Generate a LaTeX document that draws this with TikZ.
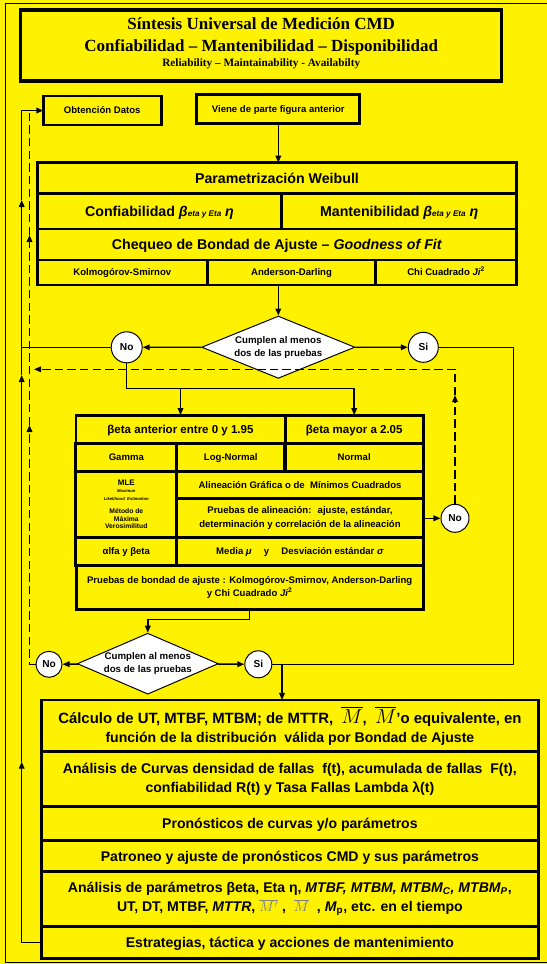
\documentclass[tikz,border=0pt]{standalone}
\usepackage{fontspec}
\setmainfont{Liberation Sans}
\newfontfamily\serifcmd{Liberation Serif}
\usetikzlibrary{shapes.geometric,arrows.meta,positioning}
\newcommand{\pxu}{0.25mm}

\begin{document}
\begin{tikzpicture}[x=\pxu,y=-\pxu,>={Triangle[length=5pt,width=4pt]},
   caja/.style={draw,line width=2.1pt,fill=yellow,inner sep=0pt,outer sep=0pt,align=center},
   celda/.style 2 args={minimum width=#1*\pxu,minimum height=#2*\pxu},
   grande/.style={font=\fontsize{10.1}{12}\selectfont\bfseries,text height=7.2pt,text depth=0pt},
   mediana/.style={font=\fontsize{10}{12.5}\selectfont\bfseries,text height=7.1pt,text depth=0pt},
   medianas/.style={font=\fontsize{10}{13.5}\selectfont\bfseries},
   chica/.style={font=\fontsize{6.8}{10}\selectfont\bfseries,text height=4.9pt,text depth=0pt},
   chicas/.style={font=\fontsize{6.8}{10}\selectfont\bfseries},
   titulo/.style={font=\serifcmd\fontsize{12.1}{14}\selectfont\bfseries},
   opcion/.style={circle,draw,line width=0.7pt,fill=white,inner sep=0pt,minimum size=#1*\pxu,font=\fontsize{7.2}{8}\selectfont\bfseries},
   decision/.style={diamond,draw,line width=0.7pt,fill=white,inner sep=0pt,aspect=2.3,align=center,font=\fontsize{6.9}{9}\selectfont\bfseries},
   linea/.style={line width=1pt},
   retorno/.style={line width=1pt,dash pattern=on 6pt off 3pt}]
   \useasboundingbox (0,0) rectangle (547,964);
   \fill[yellow] (0,0) rectangle (547,964);
   \draw[line width=0.7pt] (5,3.5) rectangle (560,962);

   \node[caja,line width=2.4pt,celda={481}{71}] (marco) at (261.2,45.5) {};
   \node[titulo] (titulo1) at (261.2,23.3) {Síntesis Universal de Medición CMD};
   \node[titulo] (titulo2) at (261.2,47.7) {Confiabilidad – Mantenibilidad – Disponibilidad};
   \node[font=\serifcmd\fontsize{8}{9}\selectfont\bfseries] (titulo3) at (261.2,64.3) {Reliability – Maintainability - Availabilty};

   \node[caja,chica,celda={117.7}{29}] (obt) at (102.2,110.5) {Obtención Datos};
   \node[caja,chica,celda={163.3}{29}] (viene) at (278.3,108.8) {Viene de parte figura anterior};

   \node[caja,grande,celda={479.4}{31.3}] (weib) at (277,178.3) {Parametrización Weibull};
   \node[caja,grande,celda={244.4}{35}] (conf) at (159.5,211.5) {Confiabilidad \textit{β{\fontsize{5.8}{7}\selectfont eta y Eta} η}};
   \node[caja,grande,celda={235}{35}] (mant) at (399.2,211.5) {Mantenibilidad \textit{β{\fontsize{5.8}{7}\selectfont eta y Eta} η}};
   \node[caja,grande,celda={479.4}{31}] (cheq) at (277,244.5) {Chequeo de Bondad de Ajuste – \textit{Goodness of Fit}};
   \node[caja,chica,celda={170}{25}] (ks) at (122.3,272.5) {Kolmogórov-Smirnov};
   \node[caja,chica,celda={168.4}{25}] (ad) at (291.5,272.5) {Anderson-Darling};
   \node[caja,chica,celda={141}{25}] (chi) at (446.2,272.5) {Chi Cuadrado \textit{Ji}\textsuperscript{2}};

   \node[decision,celda={153.3}{62.3}] (cumple1) at (278.3,347.2) {Cumplen al menos\\dos de las pruebas};
   \node[opcion=31] (no1) at (126.7,347.3) {No};
   \node[opcion=30] (si1) at (423.3,347.3) {Si};

   \node[caja,font=\fontsize{8.2}{10}\selectfont\bfseries,text height=5.9pt,text depth=0pt,celda={209}{28.3}] (beta1) at (180.5,429.2) {βeta anterior entre 0 y 1.95};
   \node[caja,font=\fontsize{8.2}{10}\selectfont\bfseries,text height=5.9pt,text depth=0pt,celda={138.3}{28.3}] (beta2) at (354.2,429.2) {βeta mayor a 2.05};
   \node[caja,chica,celda={100.7}{27.7}] (gamma) at (126.3,457.2) {Gamma};
   \node[caja,chica,celda={108.3}{27.7}] (lognormal) at (230.8,457.2) {Log-Normal};
   \node[caja,chica,celda={138.3}{27.7}] (normal) at (354.2,457.2) {Normal};
   \node[caja,font=\fontsize{4.8}{5.4}\selectfont\bfseries,celda={100.7}{66.3}] (mle) at (126.3,504.2)
      {\fontsize{5.7}{6}\selectfont MLE\\ \fontsize{3}{3.4}\selectfont\itshape Maximun\\
       \fontsize{3}{3.4}\selectfont\itshape Likelihood\ \ Estimation\\[4pt] Método de\\ Máxima\\ Verosimilitud};
   \node[caja,chica,celda={246.6}{27.3}] (alin) at (300,484.7) {Alineación Gráfica o de \ Mínimos Cuadrados};
   \node[caja,chicas,celda={246.6}{39}] (prual) at (300,517.8) {Pruebas de alineación: \ ajuste, estándar,\\determinación y correlación de la alineación};
   \node[caja,chica,celda={100.7}{28.4}] (alfa) at (126.3,551.5) {αlfa y βeta};
   \node[caja,chica,celda={246.6}{28.4}] (media) at (300,551.5) {Media \textit{μ} \quad y \quad Desviación estándar \textit{σ}};
   \node[caja,font=\fontsize{6.8}{9.6}\selectfont\bfseries,celda={347.3}{43.6}] (bondad) at (249.7,587.5)
      {Pruebas de bondad de ajuste : Kolmogórov-Smirnov, Anderson-Darling\\y Chi Cuadrado \textit{Ji}\textsuperscript{2}};
   \node[opcion=28] (no2) at (455,518.3) {No};

   \node[decision,celda={141}{61}] (cumple2) at (147.8,663.7) {Cumplen al menos\\dos de las pruebas};
   \node[opcion=26] (no3) at (49,664.3) {No};
   \node[opcion=27] (si2) at (258.3,664.3) {Si};

   \node[caja,medianas,celda={496.3}{51.7}] (calc) at (289.9,725.85)
      {\fontsize{10.6}{13.5}\selectfont Cálculo de UT, MTBF, MTBM; de MTTR, \ {\fontsize{14}{14}\selectfont$\overline{M}$}, \ {\fontsize{14}{14}\selectfont$\overline{M}$}'o equivalente, en\\función de la distribución \ válida por Bondad de Ajuste};
   \node[caja,medianas,celda={496.3}{55}] (curvas) at (289.9,779.2)
      {Análisis de Curvas densidad de fallas \ f(t), acumulada de fallas \ F(t),\\confiabilidad R(t) y Tasa Fallas Lambda λ(t)};
   \node[caja,mediana,celda={496.3}{34}] (prono) at (289.9,823.7) {Pronósticos de curvas y/o parámetros};
   \node[caja,mediana,celda={496.3}{31}] (patron) at (289.9,856.2) {Patroneo y ajuste de pronósticos CMD y sus parámetros};
   \node[caja,medianas,celda={496.3}{55}] (anapar) at (289.9,899.2)
      {Análisis de parámetros βeta, Eta η, \textit{MTBF, MTBM, MTBM\textsubscript{C}, MTBM\textsubscript{P}},\\UT, DT, MTBF, \textit{MTTR}, {\color{gray}$\overline{M'}$} , \ {\color{gray}$\overline{M}$} \ , \textit{M}\textsubscript{p}, etc. en el tiempo};
   \node[caja,mediana,celda={496.3}{31.6}] (estra) at (289.9,942.5) {Estrategias, táctica y acciones de mantenimiento};

   \coordinate (f1) at (21.7,761.7);
   \coordinate (f2) at (21.7,375);
   \coordinate (f3) at (21.7,200);
   \coordinate (g1) at (29.5,425);
   \coordinate (g2) at (29.5,235);
   \coordinate (h1) at (455,395);
   \coordinate (h2) at (34,369.3);
   \coordinate (der) at (513.3,0);
   \coordinate (bajada) at (282,0);
   \coordinate (ramal) at (0,388.3);
   \coordinate (baja) at (0,619.3);

   \draw[->,linea] (viene.south) -- (viene.south |- weib.north);
   \draw[->,linea] (cumple1.north |- ad.south) -- (cumple1.north);
   \path[->,linea]
   (cumple1) edge (no1)
             edge (si1)
   (cumple2) edge (no3)
             edge (si2);
   \draw[->,linea] (no1.south) |- (beta2.north |- ramal) -- (beta2.north);
   \draw[->,linea] (beta1.north |- ramal) -- (beta1.north);
   \draw[->,linea] (bondad.south) -- (bondad.south |- baja) -| (cumple2.north);
   \draw[->,linea] (prual.east |- no2) -- (no2.west);
   \draw[linea] (si1.east) -| (der |- si2) -- (si2.east);
   \draw[->,linea] (bajada |- si2) -- (bajada |- calc.north);

   \draw[->,linea] (estra.west) -| (f1);
   \draw[->,linea] (f1) -- (f2);
   \draw[->,linea] (f2) -- (f3);
   \draw[->,linea] (f3) |- (obt.west);
   \draw[linea] (no1.west) -- (no1 -| f1);

   \draw[->,retorno] (no3.west) -| (g1);
   \draw[->,retorno] (g1) -- (g2);
   \draw[retorno] (g2) -- (g2 |- obt.west);
   \draw[->,retorno] (no2.north) -- (h1);
   \draw[->,retorno] (h1) |- (h2);
\end{tikzpicture}
\end{document}
